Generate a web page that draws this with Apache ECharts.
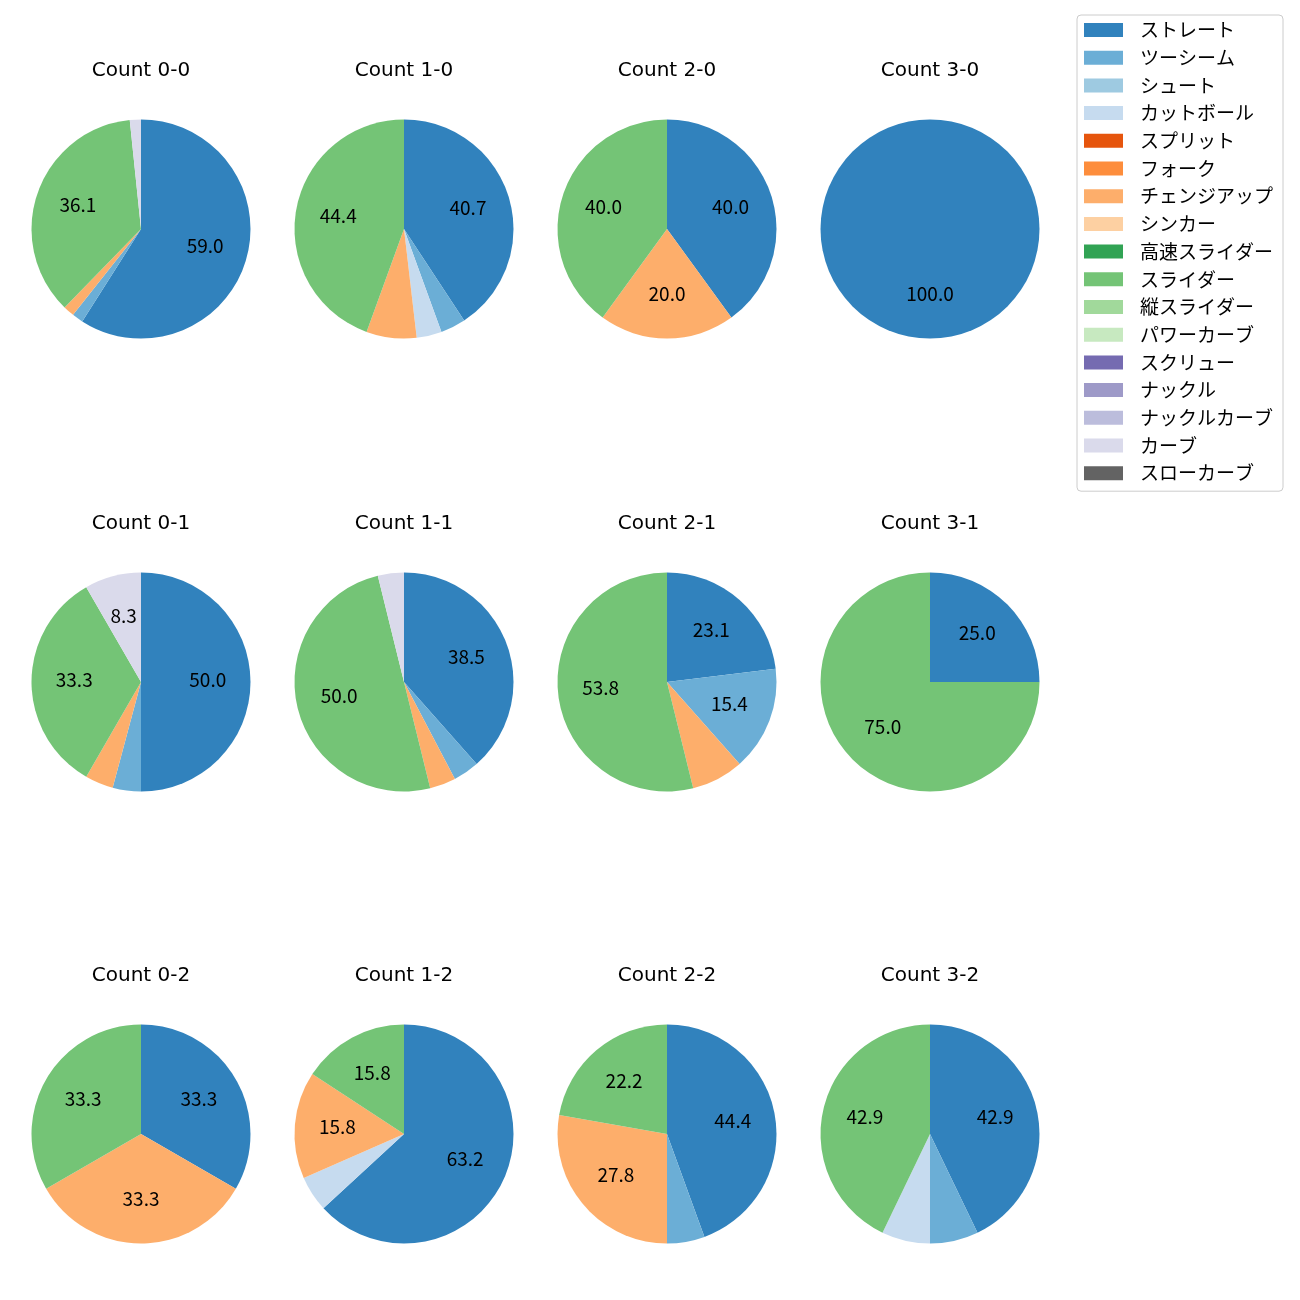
<!DOCTYPE html>
<html>
<head>
<meta charset="utf-8">
<script src="https://cdn.jsdelivr.net/npm/echarts@6/dist/echarts.min.js"></script>
<style>
html,body{margin:0;padding:0;background:#fff;}
#chart{width:1300px;height:1300px;}
</style>
</head>
<body>
<div id="chart"></div>
<script>
// Pitch types (legend order)
const categories = ['ストレート','ツーシーム','シュート','カットボール','スプリット','フォーク','チェンジアップ','シンカー','高速スライダー','スライダー','縦スライダー','パワーカーブ','スクリュー','ナックル','ナックルカーブ','カーブ','スローカーブ'];
const colors = ['#3182bd','#6baed6','#9ecae1','#c6dbef','#e6550d','#fd8d3c','#fdae6b','#fdd0a2','#31a354','#74c476','#a1d99b','#c7e9c0','#756bb1','#9e9ac8','#bcbddc','#dadaeb','#636363'];

// Pitch counts per ball-strike count, in category order
const count00 = [36,1,0,0,0,0,1,0,0,22,0,0,0,0,0,1,0];
const count10 = [11,1,0,1,0,0,2,0,0,12,0,0,0,0,0,0,0];
const count20 = [2,0,0,0,0,0,1,0,0,2,0,0,0,0,0,0,0];
const count30 = [1,0,0,0,0,0,0,0,0,0,0,0,0,0,0,0,0];
const count01 = [12,1,0,0,0,0,1,0,0,8,0,0,0,0,0,2,0];
const count11 = [10,1,0,0,0,0,1,0,0,13,0,0,0,0,0,1,0];
const count21 = [3,2,0,0,0,0,1,0,0,7,0,0,0,0,0,0,0];
const count31 = [1,0,0,0,0,0,0,0,0,3,0,0,0,0,0,0,0];
const count02 = [1,0,0,0,0,0,1,0,0,1,0,0,0,0,0,0,0];
const count12 = [12,0,0,1,0,0,3,0,0,3,0,0,0,0,0,0,0];
const count22 = [8,1,0,0,0,0,5,0,0,4,0,0,0,0,0,0,0];
const count32 = [6,1,0,1,0,0,0,0,0,6,0,0,0,0,0,0,0];

const panelTitles = ['Count 0-0','Count 1-0','Count 2-0','Count 3-0','Count 0-1','Count 1-1','Count 2-1','Count 3-1','Count 0-2','Count 1-2','Count 2-2','Count 3-2'];
const panelData = [count00,count10,count20,count30,count01,count11,count21,count31,count02,count12,count22,count32];

const FONT = '"Noto Sans CJK JP", "Noto Sans", sans-serif';
const TITLE_FONT = '"DejaVu Sans", sans-serif';
const colX = [141, 404, 667, 930];
const rowY = [229, 682, 1134];
const R = 109.5;

const titles = [];
const series = [];
panelData.forEach((arr, i) => {
  const cx = colX[i % 4], cy = rowY[Math.floor(i / 4)];
  const data = arr.map((v, k) => ({name: categories[k], value: v, itemStyle: {color: colors[k]}}));
  titles.push({
    text: panelTitles[i], left: cx, top: cy - 168, textAlign: 'center', padding: 0,
    textStyle: {fontFamily: TITLE_FONT, fontSize: 20, fontWeight: 'normal', color: '#000', lineHeight: 20}
  });
  series.push({
    type: 'pie', center: [cx, cy], radius: [0, R], startAngle: 90, clockwise: true,
    label: {show: false}, labelLine: {show: false}, silent: true, animation: false,
    itemStyle: {borderWidth: 0}, data: data
  });
});
panelData.forEach((arr, i) => {
  const cx = colX[i % 4], cy = rowY[Math.floor(i / 4)];
  const total = arr.reduce((a, b) => a + b, 0);
  const data = arr.map((v, k) => ({name: categories[k], value: v, itemStyle: {color: 'rgba(0,0,0,0)'}}));
  series.push({
    type: 'pie', center: [cx, cy], radius: [0, R * 1.165], startAngle: 90, clockwise: true,
    silent: true, animation: false, labelLine: {show: false}, itemStyle: {borderWidth: 0},
    label: {
      show: true, position: 'inside', fontFamily: FONT, fontSize: 19, color: '#000', offset: [0, -2],
      formatter: p => {
        const pct = p.value / total * 100;
        return pct >= 8 ? pct.toFixed(1) : '';
      }
    },
    data: data
  });
});

const chart = echarts.init(document.getElementById('chart'), null, {renderer: 'canvas'});
chart.setOption({
  backgroundColor: '#fff',
  animation: false,
  title: titles,
  legend: {
    orient: 'vertical', left: 1077, top: 15,
    data: categories,
    icon: 'rect', itemWidth: 39, itemHeight: 14, itemGap: 8.7,
    padding: [5.5, 10, 8.5, 7],
    borderColor: '#cccccc', borderWidth: 1, borderRadius: 4, backgroundColor: '#fff',
    selectedMode: false,
    textStyle: {fontFamily: FONT, fontSize: 19, color: '#000', padding: [0, 0, 0, 12]}
  },
  series: series
});
</script>
</body>
</html>
